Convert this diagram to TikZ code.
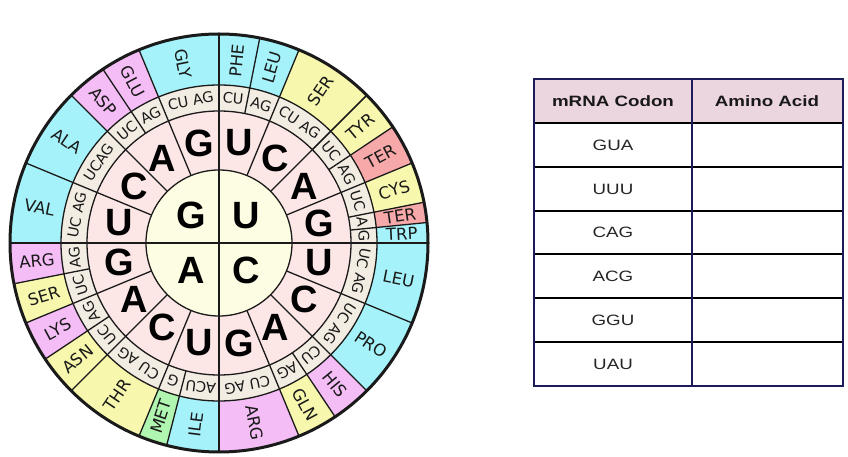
\documentclass[tikz,border=0pt]{standalone}
\usepackage{fontspec}
\setmainfont{Liberation Sans}
\newfontfamily\aafont{DejaVu Sans}
\newfontfamily\tblfont[FakeStretch=1.25]{Liberation Sans}
\definecolor{cyanaa}{HTML}{A6F2FA}
\definecolor{pinkaa}{HTML}{F5BDF5}
\definecolor{yellowaa}{HTML}{F7F7AE}
\definecolor{redaa}{HTML}{F7A8A8}
\definecolor{greenaa}{HTML}{B0F5B0}
\definecolor{ringbeige}{HTML}{F3ECE2}
\definecolor{ringpink}{HTML}{FCE6E6}
\definecolor{corefill}{HTML}{FDFDE3}
\definecolor{linecol}{HTML}{1A1A1A}
\definecolor{tblframe}{HTML}{1C1C5A}
\definecolor{tblheadfill}{HTML}{EBD5DF}
\newcommand{\wsector}[5]{%
  \fill[#1] (#2:#4pt) arc[start angle=#2, end angle=#3, radius=#4pt]
    -- (#3:#5pt) arc[start angle=#3, end angle=#2, radius=#5pt] -- cycle;}
\tikzset{
  wline/.style={draw=linecol, line width=1.3pt},
  bigletter/.style={font=\fontsize{38}{38}\selectfont\bfseries, inner sep=0pt},
  aalabel/.style={font=\aafont\fontsize{16.5}{16.5}\selectfont, inner sep=0pt, text=black!90},
  baselabel/.style={font=\aafont\fontsize{14.5}{14.5}\selectfont, inner sep=0pt, text=black!90},
  tbltext/.style={font=\tblfont\fontsize{15}{15}\selectfont, inner sep=0pt, text=black!85},
  tblheadtext/.style={font=\tblfont\fontsize{15}{15}\selectfont\bfseries, inner sep=0pt, text=black!90},
}
\begin{document}
\begin{tikzpicture}[x=1pt,y=1pt]
\useasboundingbox (0,0) rectangle (848,457);
\fill[white] (0,0) rectangle (848,457);
\begin{scope}[shift={(219,214)}]
  % rings
  \fill[ringbeige] (0,0) circle[radius=158pt];
  \fill[ringpink] (0,0) circle[radius=132pt];
  \fill[corefill] (0,0) circle[radius=73pt];
  % amino acid sectors
  \foreach \a/\b/\c/\t [count=\i] in {
    90/78.75/cyanaa/PHE, 78.75/67.5/cyanaa/LEU, 67.5/45/yellowaa/SER,
    45/33.75/yellowaa/TYR, 33.75/22.5/redaa/TER, 22.5/11.25/yellowaa/CYS,
    11.25/5.625/redaa/TER, 5.625/0/cyanaa/TRP,
    0/-22.5/cyanaa/LEU, -22.5/-45/cyanaa/PRO, -45/-56.25/pinkaa/HIS,
    -56.25/-67.5/yellowaa/GLN, -67.5/-90/pinkaa/ARG,
    -90/-104.5/cyanaa/ILE, -104.5/-112.5/greenaa/MET, -112.5/-135/yellowaa/THR,
    -135/-146.25/yellowaa/ASN, -146.25/-157.5/pinkaa/LYS, -157.5/-168.75/yellowaa/SER,
    -168.75/-180/pinkaa/ARG,
    180/157.5/cyanaa/VAL, 157.5/135/cyanaa/ALA, 135/123.75/pinkaa/ASP,
    123.75/112.5/pinkaa/GLU, 112.5/90/cyanaa/GLY} {
    \wsector{\c}{\a}{\b}{158}{209}
    \pgfmathsetmacro\m{(\a+\b)/2}
    \pgfmathsetmacro\rot{(\m>90 || \m<-90) ? \m-180 : \m}
    \node[aalabel, rotate=\rot] (aa\i) at (\m:183pt) {\t};
  }
  % dividers at amino acid boundaries
  \foreach \ang in {78.75,45,33.75,11.25,5.625,-56.25,-104.5,-146.25,-168.75,123.75}
    \draw[wline] (\ang:132pt) -- (\ang:209pt);
  % sector dividers
  \foreach \ang in {67.5,45,22.5,-22.5,-45,-67.5,-112.5,-135,-157.5,157.5,135,112.5}
    \draw[wline] (\ang:73pt) -- (\ang:209pt);
  % quadrant lines
  \draw[wline] (0,-209) -- (0,209);
  \draw[wline] (-209,0) -- (209,0);
  % circles
  \draw[wline] (0,0) circle[radius=73pt];
  \draw[wline] (0,0) circle[radius=132pt];
  \draw[wline] (0,0) circle[radius=158pt];
  \draw[draw=linecol, line width=3pt] (0,0) circle[radius=209pt];
  % third base labels
  \foreach \ang/\t [count=\i] in {
    84.375/CU, 73.125/AG, 56.25/CU AG, 39.375/UC, 28.125/AG,
    16.875/UC, 8.4375/A, 2.8125/G,
    -11.25/UC AG, -33.75/UC AG, -50.625/CU, -61.875/AG, -78.75/CU AG,
    -97.25/ACU, -108.5/G, -123.75/CU AG, -140.625/UC, -151.875/AG,
    -163.125/UC, -174.375/AG,
    168.75/UC AG, 146.25/UCAG, 129.375/UC, 118.125/AG, 101.25/CU AG} {
    \pgfmathsetmacro\rot{\ang-90}
    \node[baselabel, rotate=\rot] (b\i) at (\ang:145pt) {\t};
  }
  % second base letters
  \foreach \ang/\t [count=\i] in {
    78.75/U,56.25/C,33.75/A,11.25/G,-11.25/U,-33.75/C,-56.25/A,-78.75/G,
    -101.25/U,-123.75/C,-146.25/A,-168.75/G,168.75/U,146.25/C,123.75/A,101.25/G}
    \node[bigletter] (s\i) at (\ang:102pt) {\t};
  % first base letters
  \node[bigletter] (fG) at (135:39pt) {G};
  \node[bigletter] (fU) at (45:39pt) {U};
  \node[bigletter] (fA) at (-135:39pt) {A};
  \node[bigletter] (fC) at (-45:39pt) {C};
\end{scope}
% table
\fill[tblheadfill] (534,378) rectangle (843,334);
\foreach \yy in {334,290,246,203,159,115}
  \draw[black, line width=1.1pt] (534,\yy) -- (843,\yy);
\draw[tblframe, line width=1.1pt] (692,378) -- (692,71);
\draw[tblframe, line width=1.1pt] (534,378) rectangle (843,71);
\node[tblheadtext] (h1) at (613,356) {mRNA Codon};
\node[tblheadtext] (h2) at (767,356) {Amino Acid};
\foreach \t/\yy [count=\i] in {GUA/312,UUU/268,CAG/224.5,ACG/181,GGU/137,UAU/93}
  \node[tbltext] (c\i) at (613,\yy) {\t};
\end{tikzpicture}
\end{document}
